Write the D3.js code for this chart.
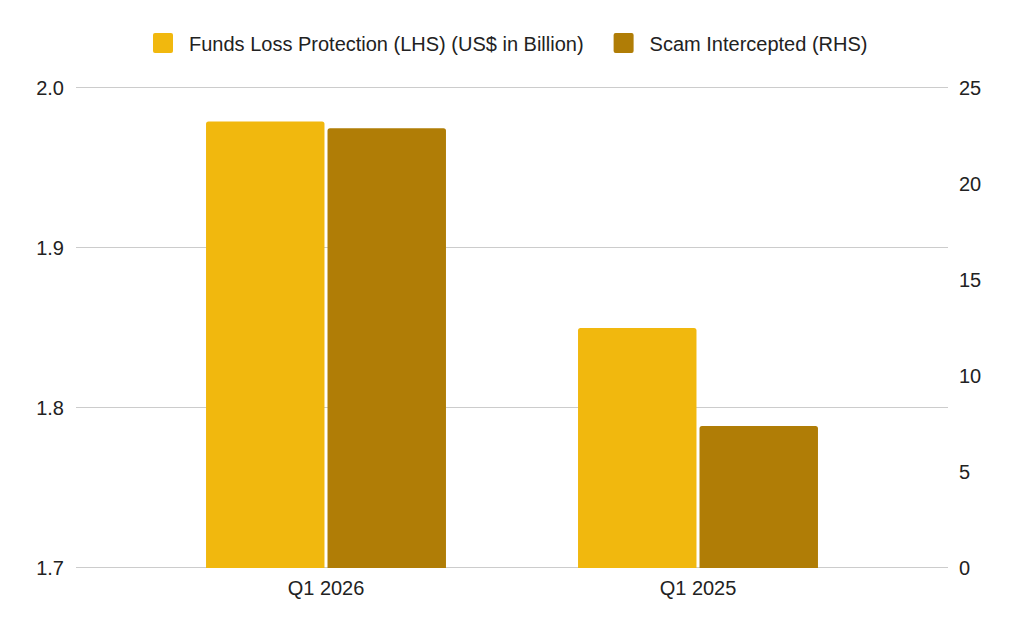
<!DOCTYPE html>
<html>
<head>
<meta charset="utf-8">
<script src="https://cdn.jsdelivr.net/npm/d3@7"></script>
<style>
  body { margin: 0; background: #fff; }
  svg { display: block; font-family: "Liberation Sans", Arial, sans-serif; }
</style>
</head>
<body>
<svg width="1024" height="633"></svg>
<script>
// data
const quarters = ['Q1 2026', 'Q1 2025']
const fundsLoss = [1.979, 1.85]      // LHS, US$ bn
const scamIntercepted = [22.9, 7.4]  // RHS
const leftTicks = [1.7, 1.8, 1.9, 2.0]
const rightTicks = [0, 5, 10, 15, 20, 25]
const seriesNames = ['Funds Loss Protection (LHS) (US$ in Billion)', 'Scam Intercepted (RHS)']
const seriesColors = ['#f1b80e', '#b07d06']

const svg = d3.select('svg')
const fontFamily = '"Liberation Sans", Arial, sans-serif'
const fontSize = 20

// plot area
const plotLeft = 76, plotRight = 948, plotTop = 88, plotBottom = 568

const yLeft = d3.scaleLinear().domain([1.7, 2.0]).range([plotBottom, plotTop])
const yRight = d3.scaleLinear().domain([0, 25]).range([plotBottom, plotTop])

// categories sit narrower than the gridlines (google charts style)
const x = d3.scaleBand().domain(quarters).range([140, 884]).paddingInner(0.355).paddingOuter(0.1775)
const xSub = d3.scaleBand().domain([0, 1]).range([0, x.bandwidth()]).paddingInner(0.025)

// gridlines
svg.append('g')
  .selectAll('line')
  .data(leftTicks)
  .join('line')
  .attr('x1', plotLeft).attr('x2', plotRight)
  .attr('y1', d => Math.round(yLeft(d)) - 0.5)
  .attr('y2', d => Math.round(yLeft(d)) - 0.5)
  .attr('stroke', '#cccccc')
  .attr('stroke-width', 1)

function styleAxis (g) {
  g.select('.domain').remove()
  g.selectAll('text').attr('font-size', fontSize).attr('fill', '#222').attr('font-family', fontFamily)
}

// left axis
svg.append('g')
  .attr('transform', `translate(${plotLeft - 12}, 0)`)
  .call(d3.axisLeft(yLeft).tickValues(leftTicks).tickFormat(d3.format('.1f')).tickSize(0).tickPadding(0))
  .call(styleAxis)

// right axis
svg.append('g')
  .attr('transform', `translate(${plotRight + 11}, 0)`)
  .call(d3.axisRight(yRight).tickValues(rightTicks).tickSize(0).tickPadding(0))
  .call(styleAxis)

// x axis labels
svg.append('g')
  .attr('transform', `translate(0, ${plotBottom + 13})`)
  .call(d3.axisBottom(x).tickSize(0).tickPadding(0))
  .call(styleAxis)

// bar with small rounded top corners
function barPath (x0, y0, w, y1) {
  const r = 2.5
  return `M${x0},${y1}V${y0 + r}Q${x0},${y0} ${x0 + r},${y0}H${x0 + w - r}Q${x0 + w},${y0} ${x0 + w},${y0 + r}V${y1}Z`
}

const groups = svg.append('g')
  .selectAll('g')
  .data(quarters)
  .join('g')
  .attr('transform', d => `translate(${x(d)}, 0)`)

groups.append('path')
  .attr('fill', seriesColors[0])
  .attr('d', (d, i) => barPath(xSub(0), yLeft(fundsLoss[i]), xSub.bandwidth(), yLeft(1.7)))

groups.append('path')
  .attr('fill', seriesColors[1])
  .attr('d', (d, i) => barPath(xSub(1), yRight(scamIntercepted[i]), xSub.bandwidth(), yRight(0)))

// legend
const legend = svg.append('g').attr('transform', 'translate(153, 33)')
let lx = 0
seriesNames.forEach((name, i) => {
  const item = legend.append('g').attr('transform', `translate(${lx}, 0)`)
  item.append('rect')
    .attr('width', 20).attr('height', 20).attr('rx', 2)
    .attr('fill', seriesColors[i])
  const t = item.append('text')
    .attr('x', 36).attr('y', 17.5)
    .attr('font-size', fontSize).attr('fill', '#222').attr('font-family', fontFamily)
    .text(name)
  lx += 36 + t.node().getComputedTextLength() + 30
})
</script>
</body>
</html>
